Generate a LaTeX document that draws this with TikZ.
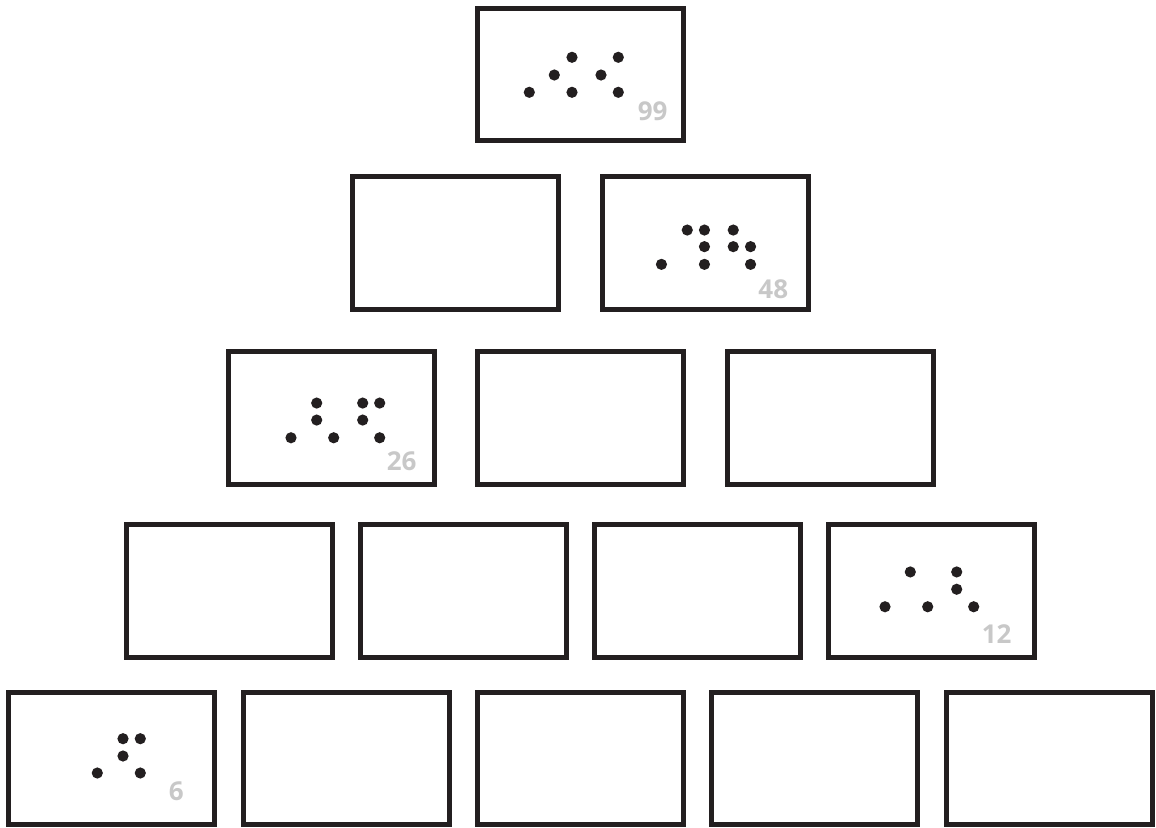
\documentclass[tikz,border=0pt]{standalone}
\usepackage{fontspec}
\setmainfont{Open Sans}
\usetikzlibrary{positioning}
\definecolor{ink}{RGB}{35,31,32}
\definecolor{numgray}{RGB}{200,200,200}

\begin{document}
\begin{tikzpicture}[
            x=1pt, y=-1pt,
            card/.style={draw=ink, line width=5pt, rectangle, minimum width=206pt, minimum height=132.5pt, inner sep=0pt, outer sep=0pt},
            count/.style={text=numgray, font=\bfseries\fontsize{26}{26}\selectfont, inner sep=0pt},
            dot/.style={fill=ink}
        ]
            \useasboundingbox (0,0) rectangle (1156,827);

            % Cards, row by row
            \node[card] (top) at (580.5,74.6) {};

            \node[card] (r2a) at (455.75,243.05) {};
            \node[card, right=43.5pt of r2a] (r2b) {};

            \node[card] (r3a) at (331,418.05) {};
            \node[card, right=43.5pt of r3a] (r3b) {};
            \node[card, right=43.5pt of r3b] (r3c) {};

            \node[card] (r4a) at (229.8,590.85) {};
            \node[card, right=27.8pt of r4a] (r4b) {};
            \node[card, right=27.8pt of r4b] (r4c) {};
            \node[card, right=27.8pt of r4c] (r4d) {};

            \node[card] (r5a) at (111.7,758.5) {};
            \node[card, right=28.4pt of r5a] (r5b) {};
            \node[card, right=28.4pt of r5b] (r5c) {};
            \node[card, right=28.4pt of r5c] (r5d) {};
            \node[card, right=28.4pt of r5d] (r5e) {};

            % Dots and counts
            \foreach \dx/\dy in {-51.2/17.7, -26.2/0.4, -8.5/-17.3, -8.5/17.7, 20.5/0.4, 37.8/-17.3, 37.8/17.7}
                \fill[dot] ([shift={(\dx,\dy)}]top.center) circle (5.6pt);
            \node[count] (n99) at ([shift={(72.2,36.4)}]top.center) {99};

            \foreach \dx/\dy in {-18/-13, -0.8/-13, 28/-13, -0.8/3.6, 28/3.6, 45.3/3.6, -43.8/21.3, -0.8/21.3, 45.3/21.3}
                \fill[dot] ([shift={(\dx,\dy)}]r2b.center) circle (5.6pt);
            \node[count] (n48) at ([shift={(68,46)}]r2b.center) {48};

            \foreach \dx/\dy in {-14.3/-15, 31.7/-15, 48.7/-15, -14.3/2, 31.7/2, -40/19.7, 2.7/19.7, 48.7/19.7}
                \fill[dot] ([shift={(\dx,\dy)}]r3a.center) circle (5.6pt);
            \node[count] (n26) at ([shift={(70.7,43.6)}]r3a.center) {26};

            \foreach \dx/\dy in {-20.9/-18.9, 25.5/-18.9, 25.5/-1.6, -46.2/15.9, -3.5/15.9, 42.5/15.9}
                \fill[dot] ([shift={(\dx,\dy)}]r4d.center) circle (5.6pt);
            \node[count] (n12) at ([shift={(65.5,42.9)}]r4d.center) {12};

            \foreach \dx/\dy in {11.3/-19.8, 28.6/-19.8, 11.3/-2.5, -14.4/14.5, 28.6/14.5}
                \fill[dot] ([shift={(\dx,\dy)}]r5a.center) circle (5.6pt);
            \node[count] (n6) at ([shift={(64.6,33.2)}]r5a.center) {6};
        \end{tikzpicture}
\end{document}
